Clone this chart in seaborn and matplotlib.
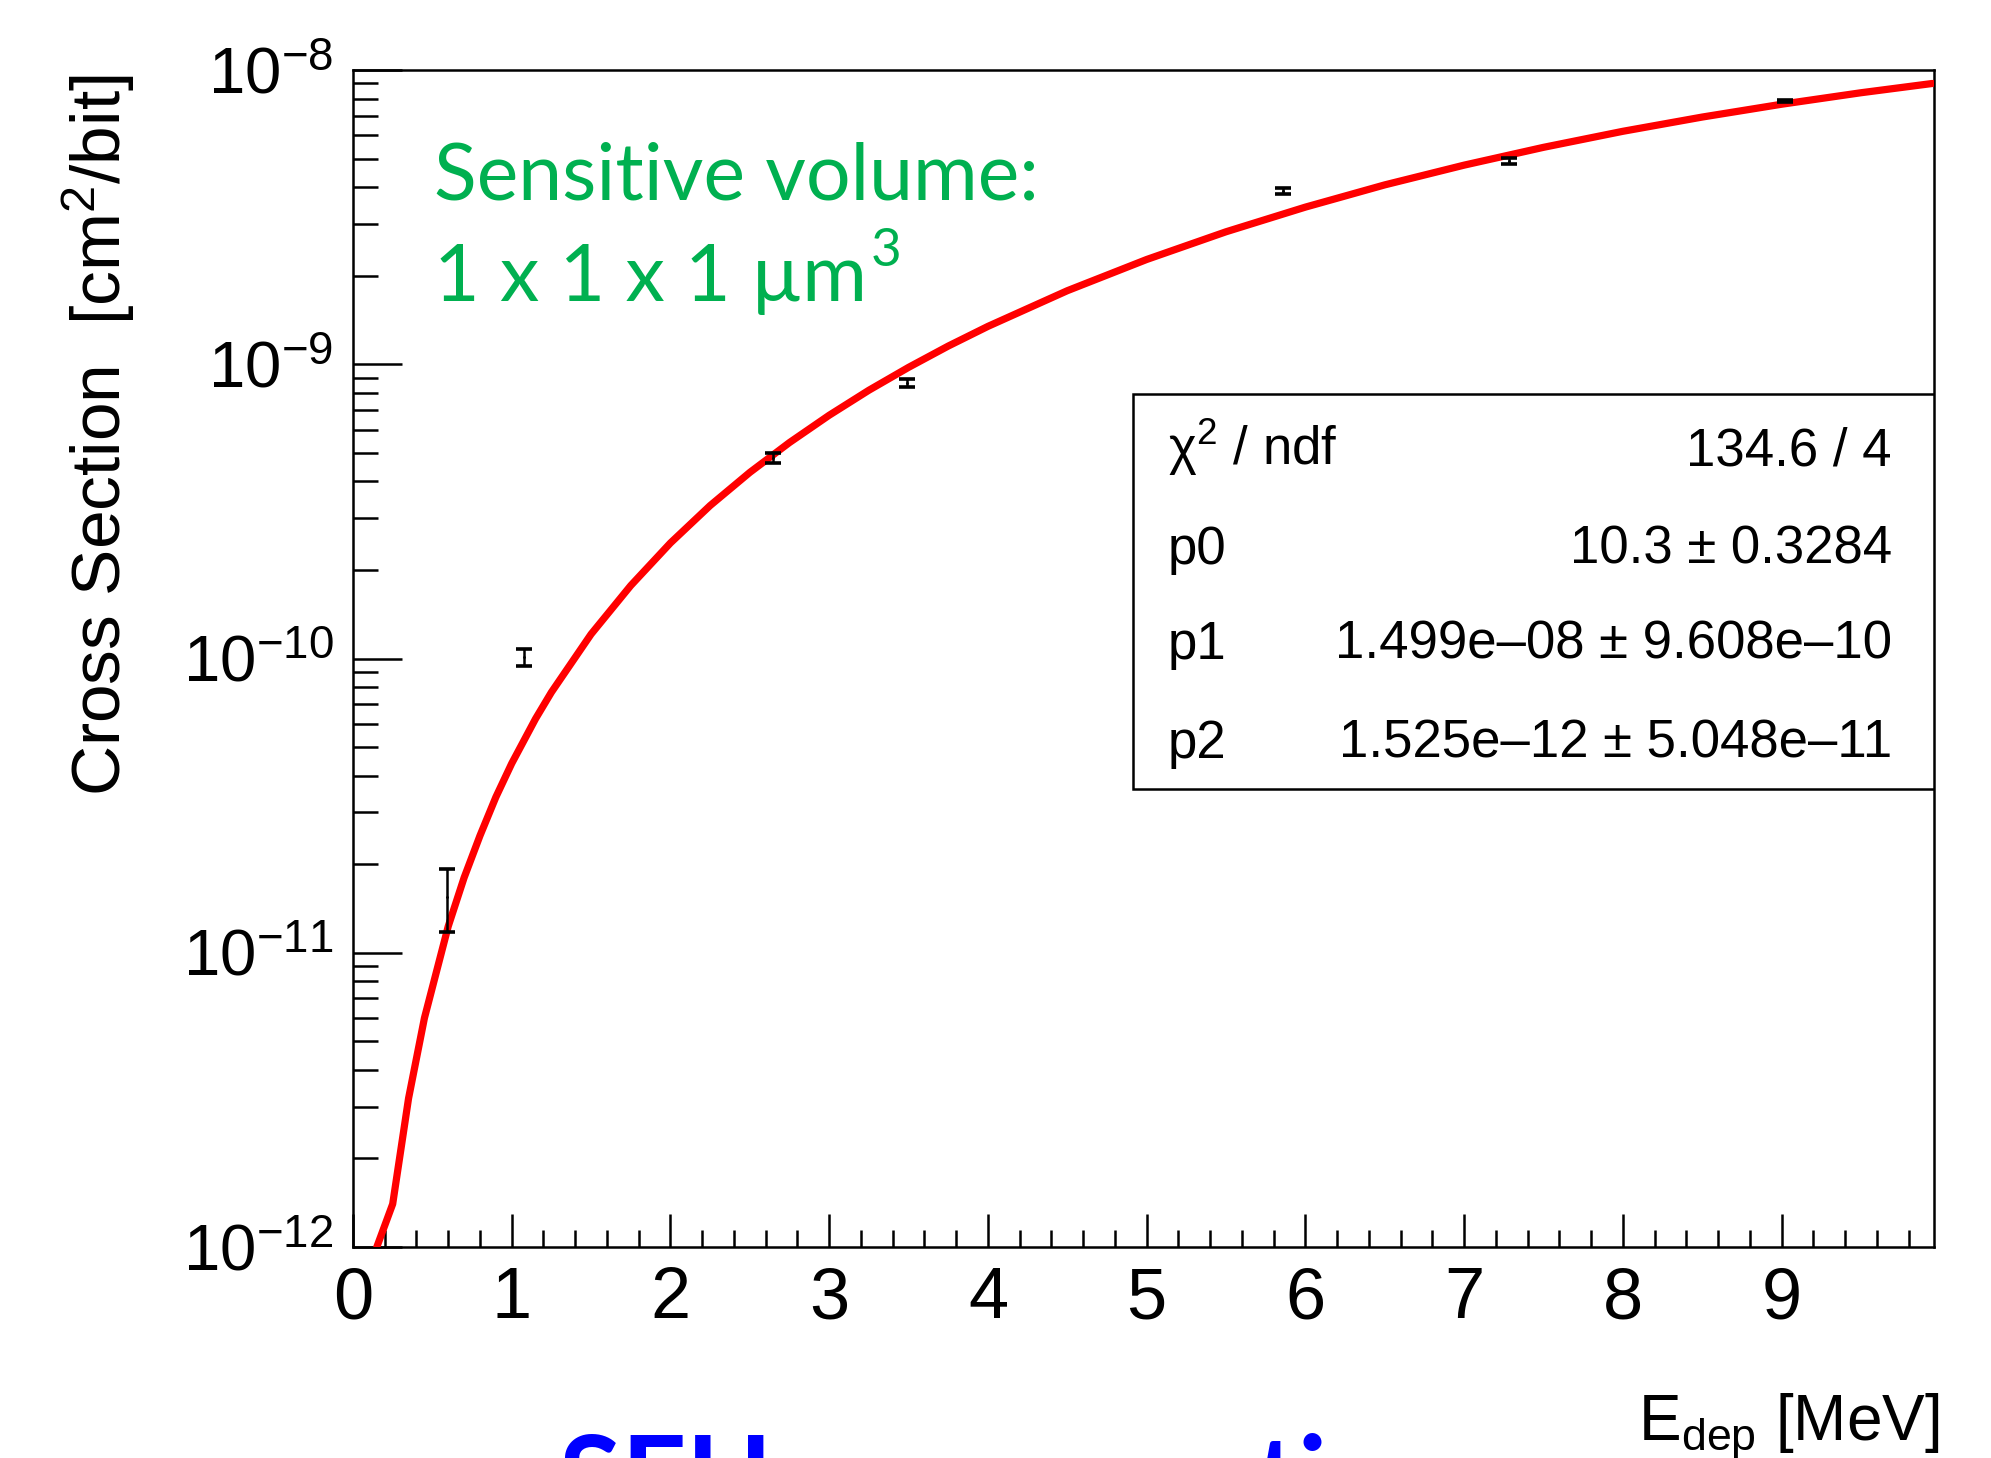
import numpy as np
import pandas as pd
import seaborn as sns
import matplotlib
matplotlib.use("Agg")
import matplotlib.pyplot as plt
from matplotlib.ticker import LogLocator, MultipleLocator, LogFormatterMathtext, NullFormatter
from matplotlib.patches import Rectangle

# ---------------- data ----------------
point_x = [0.59, 1.08, 2.646, 3.49, 5.86, 7.28, 9.02]
point_y = [1.55e-11, 1.01e-10, 4.80e-10, 8.64e-10, 3.88e-9, 4.91e-9, 7.85e-9]
point_err = [0.37e-11, 0.07e-10, 0.19e-10, 0.27e-10, 0.10e-9, 0.12e-9, 0.05e-9]

curve_x = [0.15, 0.25, 0.35, 0.45, 0.6, 0.7, 0.8, 0.9, 1.0, 1.15, 1.25, 1.5, 1.75,
           2.0, 2.25, 2.5, 2.75, 3.0, 3.25, 3.5, 3.75, 4.0, 4.5, 5.0, 5.5, 6.0,
           6.5, 7.0, 7.5, 8.0, 8.5, 9.0, 9.5, 9.95]
curve_y = [1.0e-12, 1.4e-12, 3.2e-12, 6.0e-12, 1.23e-11, 1.8e-11, 2.5e-11, 3.38e-11,
           4.4e-11, 6.24e-11, 7.68e-11, 1.21e-10, 1.77e-10, 2.47e-10, 3.31e-10,
           4.29e-10, 5.42e-10, 6.71e-10, 8.16e-10, 9.76e-10, 1.153e-9, 1.345e-9,
           1.778e-9, 2.27e-9, 2.82e-9, 3.42e-9, 4.07e-9, 4.75e-9, 5.46e-9, 6.19e-9,
           6.92e-9, 7.65e-9, 8.37e-9, 9.0e-9]

stat_names = ["χ$^{2}$ / ndf", "p0", "p1", "p2"]
stat_values = ["134.6 / 4", "10.3 ± 0.3284", "1.499e–08 ± 9.608e–10", "1.525e–12 ± 5.048e–11"]

x_ticks = [0, 1, 2, 3, 4, 5, 6, 7, 8, 9]

# ---------------- style ----------------
sns.set_style("ticks")
plt.rcParams['font.family'] = ['Liberation Sans', 'DejaVu Sans']
plt.rcParams['mathtext.fontset'] = 'custom'
plt.rcParams['mathtext.rm'] = 'Liberation Sans'
plt.rcParams['mathtext.it'] = 'Liberation Sans:italic'
plt.rcParams['mathtext.bf'] = 'Liberation Sans:bold'
plt.rcParams['mathtext.sf'] = 'Liberation Sans'
for k in ['text.color', 'axes.labelcolor', 'xtick.color', 'ytick.color', 'axes.edgecolor']:
    plt.rcParams[k] = 'black'

W, H = 1991, 1458
fig = plt.figure(figsize=(W / 100, H / 100), dpi=100)
ax = fig.add_axes([353 / W, 1 - 1247 / H, (1934 - 353) / W, (1247 - 70) / H])

curve_df = pd.DataFrame({"E": curve_x, "sigma": curve_y})
pts_df = pd.DataFrame({"E": point_x, "sigma": point_y, "err": point_err})

sns.lineplot(data=curve_df, x="E", y="sigma", ax=ax, color="#ff0000", lw=5.2,
             estimator=None, sort=False, zorder=3)
ax.errorbar(pts_df["E"], pts_df["sigma"], yerr=pts_df["err"], fmt='none',
            ecolor='black', elinewidth=1.8, capsize=6, capthick=2.6, zorder=4)
ax.plot(pts_df["E"], pts_df["sigma"], ls='none', marker='.', ms=2, color='black', zorder=4)

ax.set_yscale('log')
ax.set_xlim(0, 9.96)
ax.set_ylim(1e-12, 1e-8)

ax.set_xlabel("")
ax.set_ylabel("")

for s in ax.spines.values():
    s.set_visible(True)
    s.set_linewidth(1.8)
    s.set_color('black')

ax.xaxis.set_minor_locator(MultipleLocator(0.2))
ax.set_xticks(x_ticks)
ax.set_xticklabels([str(t) for t in x_ticks])
ax.yaxis.set_major_locator(LogLocator(base=10, numticks=10))
ax.yaxis.set_minor_locator(LogLocator(base=10, subs=np.arange(2, 10), numticks=20))
ax.yaxis.set_major_formatter(LogFormatterMathtext())
ax.yaxis.set_minor_formatter(NullFormatter())

ax.tick_params(axis='x', which='major', direction='in', length=24, width=1.8,
               labelsize=52, pad=14, top=False, bottom=True, colors='black')
ax.tick_params(axis='x', which='minor', direction='in', length=12, width=1.8,
               top=False, bottom=True, colors='black')
ax.tick_params(axis='y', which='major', direction='in', length=35, width=1.8,
               labelsize=47, pad=14, left=True, right=False, colors='black')
ax.tick_params(axis='y', which='minor', direction='in', length=18, width=1.8,
               left=True, right=False, colors='black')

# stats box
ax.add_patch(Rectangle((0.4934, 0.3891), 1 - 0.4934, 0.7247 - 0.3891,
                       transform=ax.transAxes, facecolor='white', edgecolor='black',
                       lw=1.8, zorder=5))
row_y = [0.6644, 0.5803, 0.4996, 0.4155]
for name, val, yy in zip(stat_names, stat_values, row_y):
    ax.text(0.5155, yy, name, transform=ax.transAxes, fontsize=38, ha='left',
            va='baseline', zorder=6, color='black')
    ax.text(0.9734, yy, val, transform=ax.transAxes, fontsize=38, ha='right',
            va='baseline', zorder=6, color='black')

# green annotation
green = "#00b050"
fig.text(434 / W, 1 - 199 / H, "Sensitive volume:", color=green, fontsize=56.8,
         family=['Lato', 'DejaVu Sans'], ha='left', va='baseline')
t2 = fig.text(434 / W, 1 - 301 / H, "1 x 1 x 1 µm", color=green, fontsize=56.8,
              family=['Lato', 'DejaVu Sans'], ha='left', va='baseline')
fig.canvas.draw()
bb = t2.get_window_extent()
fig.text((bb.x1 + 4) / W, 1 - 266 / H, "3", color=green, fontsize=38,
         family=['Lato', 'DejaVu Sans'], ha='left', va='baseline')

# axis titles
fig.text(99 / W, 1 - 435 / H, r"Cross Section  [cm$^{2}$/bit]", rotation=90,
         fontsize=50, ha='center', va='center', color='black')
fig.text(1939 / W, 1 - 1441 / H, r"E$_{\mathrm{dep}}$ [MeV]", fontsize=46,
         ha='right', va='baseline', color='black')

# cut-off slide title at the bottom
fig.text(559 / W, 1 - 1518 / H, "SEU cross section", color="#0000ff", fontsize=82,
         fontweight='bold', family=['Lato', 'DejaVu Sans'], ha='left', va='baseline')

fig.savefig("out.png", dpi=100)
